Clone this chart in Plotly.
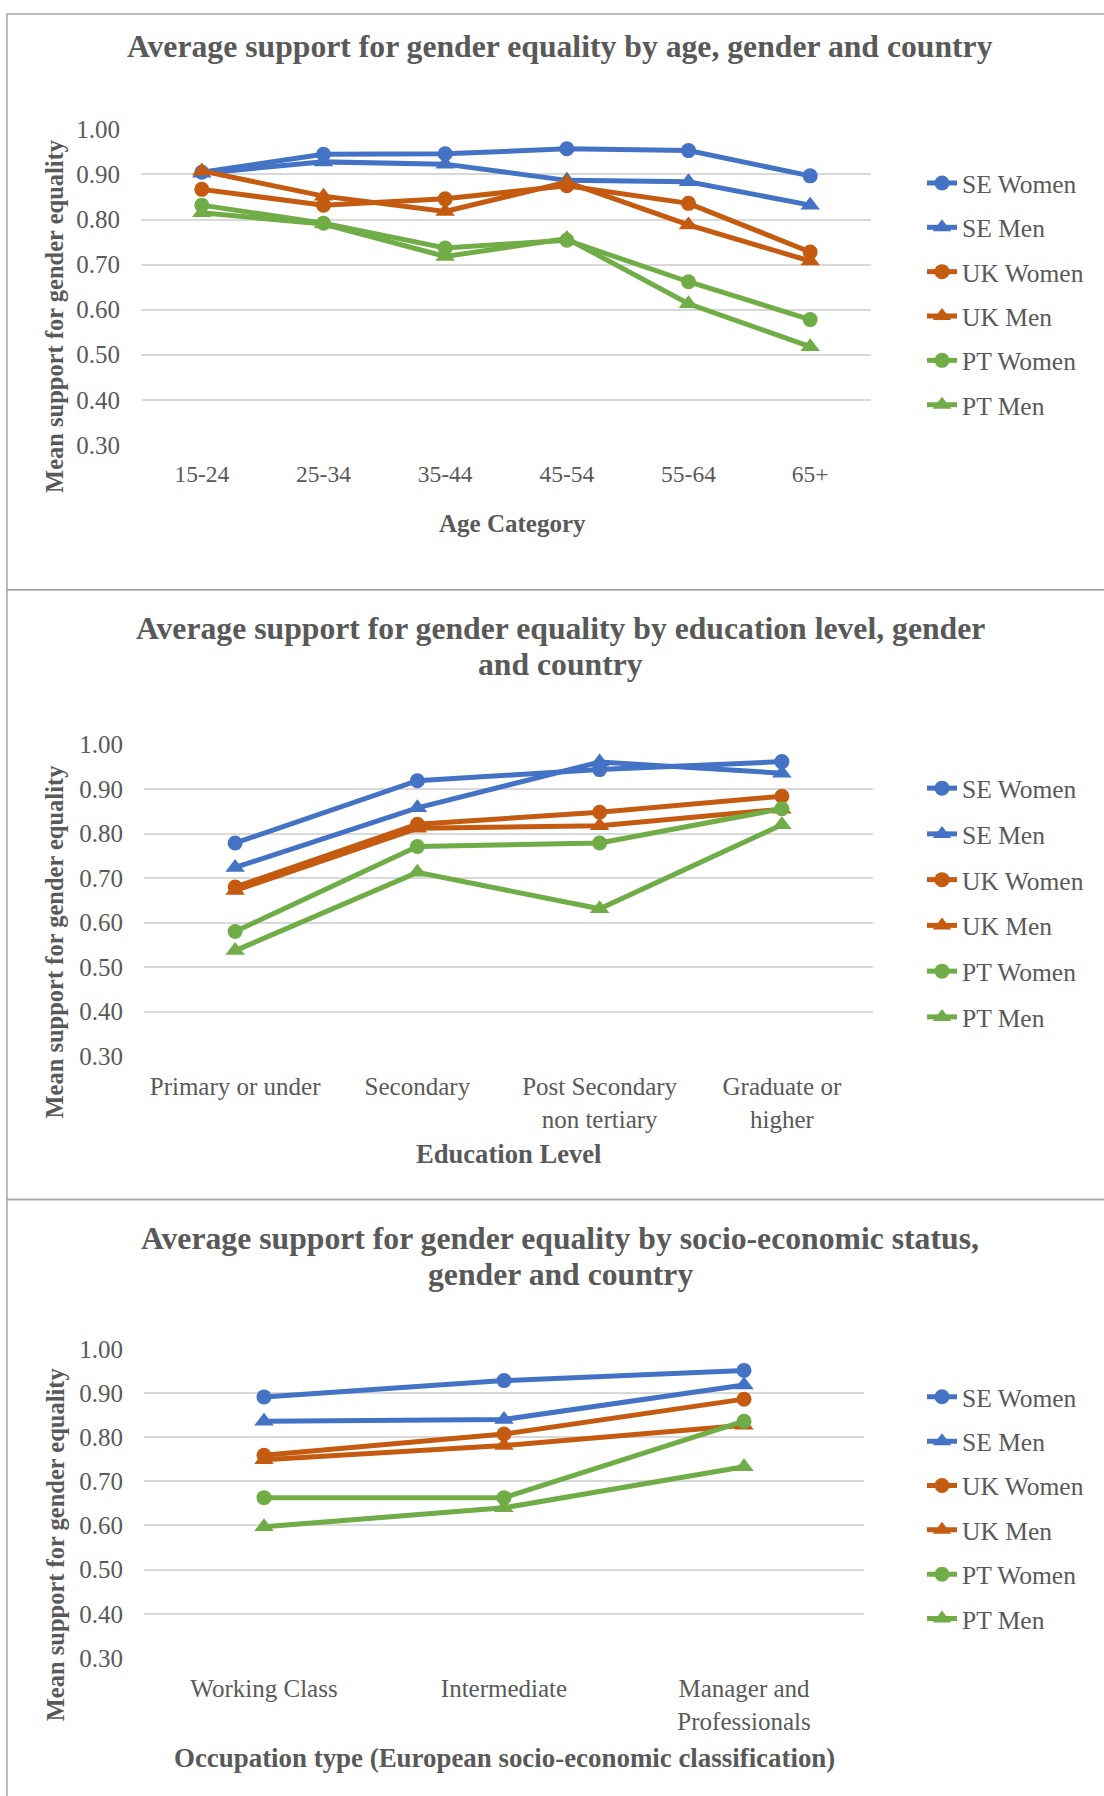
import plotly.graph_objects as go

# ---------------- data ----------------
series_names = ["SE Women", "SE Men", "UK Women", "UK Men", "PT Women", "PT Men"]

age_categories = ["15-24", "25-34", "35-44", "45-54", "55-64", "65+"]
age_se_women = [0.905, 0.945, 0.946, 0.957, 0.953, 0.897]
age_se_men = [0.903, 0.928, 0.923, 0.887, 0.884, 0.832]
age_uk_women = [0.867, 0.832, 0.846, 0.875, 0.836, 0.728]
age_uk_men = [0.908, 0.852, 0.818, 0.883, 0.788, 0.708]
age_pt_women = [0.832, 0.792, 0.737, 0.754, 0.662, 0.578]
age_pt_men = [0.815, 0.790, 0.718, 0.758, 0.613, 0.518]

edu_categories = ["Primary or under", "Secondary", "Post Secondary<br>non tertiary", "Graduate or<br>higher"]
edu_se_women = [0.779, 0.919, 0.944, 0.962]
edu_se_men = [0.724, 0.858, 0.961, 0.936]
edu_uk_women = [0.680, 0.821, 0.848, 0.884]
edu_uk_men = [0.672, 0.812, 0.818, 0.855]
edu_pt_women = [0.580, 0.771, 0.779, 0.856]
edu_pt_men = [0.537, 0.713, 0.631, 0.820]

occ_categories = ["Working Class", "Intermediate", "Manager and<br>Professionals"]
occ_se_women = [0.891, 0.928, 0.951]
occ_se_men = [0.836, 0.840, 0.918]
occ_uk_women = [0.759, 0.807, 0.886]
occ_uk_men = [0.749, 0.781, 0.827]
occ_pt_women = [0.663, 0.663, 0.836]
occ_pt_men = [0.597, 0.640, 0.733]

y_ticks = [0.30, 0.40, 0.50, 0.60, 0.70, 0.80, 0.90, 1.00]
y_axis_title = "Mean support for gender equality"

# ---------------- styling / layout ----------------
W, H = 1104, 1796
FONT = "Liberation Serif"
TXT = "#595959"
GRID = "#D9D9D9"
colors = ["#4472C4", "#4472C4", "#C55A11", "#C55A11", "#70AD47", "#70AD47"]
symbols = ["circle", "triangle-up"] * 3
msizes = [15, 17] * 3

# the captured picture maps page y to screen y as  screen = 0.9855 * page + 12.9
SCALE_Y, OFFSET_Y = 0.9855, 12.9


def px(x):
    return x / W


def sy(y_screen):
    """page pixel position that lands on the wanted screen position"""
    return (y_screen - OFFSET_Y) / SCALE_Y


def py(y_screen):
    return 1 - sy(y_screen) / H


charts = [
    dict(cats=age_categories,
         data=[age_se_women, age_se_men, age_uk_women, age_uk_men, age_pt_women, age_pt_men],
         title=["Average support for gender equality by age, gender and country"], title_y=[46],
         xtitle="Age Category", xtitle_y=524, xtitle_x=512, axis_title_size=25,
         xtick_size=23.5,
         x0=141, x1=871, ytop=129.4, ybot=445,
         ytitle_y=316, legend_first=184.5, legend_gap=8.2, box=(None, 590)),
    dict(cats=edu_categories,
         data=[edu_se_women, edu_se_men, edu_uk_women, edu_uk_men, edu_pt_women, edu_pt_men],
         title=["Average support for gender equality by education level, gender", "and country"],
         title_y=[629, 664.5],
         xtitle="Education Level", xtitle_y=1155, xtitle_x=508.5, axis_title_size=26.6,
         xtick_size=25,
         x0=144, x1=873, ytop=745, ybot=1056.5,
         ytitle_y=942, legend_first=790, legend_gap=9.6, box=(590, 1200)),
    dict(cats=occ_categories,
         data=[occ_se_women, occ_se_men, occ_uk_women, occ_uk_men, occ_pt_women, occ_pt_men],
         title=["Average support for gender equality by socio-economic status,", "gender and country"],
         title_y=[1239.5, 1275.5],
         xtitle="Occupation type (European socio-economic classification)", xtitle_y=1758.5,
         xtitle_x=504.5, axis_title_size=26.9,
         xtick_size=25,
         x0=144, x1=864, ytop=1349.4, ybot=1658.8,
         ytitle_y=1545, legend_first=1399, legend_gap=8.2, box=(1200, None)),
]

fig = go.Figure()
annotations = []
shapes = []
layout = dict(width=W, height=H, margin=dict(l=0, r=0, t=0, b=0),
              paper_bgcolor="white", plot_bgcolor="white",
              font=dict(family=FONT, color=TXT, size=24))

for i, ch in enumerate(charts):
    sfx = "" if i == 0 else str(i + 1)
    xa, ya = "x" + sfx, "y" + sfx
    leg = "legend" + sfx
    for k, name in enumerate(series_names):
        fig.add_trace(go.Scatter(
            x=ch["cats"], y=ch["data"][k], name=name, mode="lines+markers",
            line=dict(color=colors[k], width=5),
            marker=dict(symbol=symbols[k], size=msizes[k], color=colors[k]),
            xaxis=xa, yaxis=ya, legend=leg, legendgroup=f"{i}-{name}",
            hoverinfo="skip"))
    n = len(ch["cats"])
    layout["xaxis" + sfx] = dict(
        domain=[px(ch["x0"]), px(ch["x1"])], anchor=ya, type="category",
        range=[-0.5, n - 0.5], showgrid=False, showline=False, zeroline=False,
        ticks="", tickfont=dict(family=FONT, color=TXT, size=ch["xtick_size"]),
        ticklabelstandoff=13, fixedrange=True)
    layout["yaxis" + sfx] = dict(
        domain=[py(ch["ybot"]), py(ch["ytop"])], anchor=xa,
        range=[0.3, 1.0], tickmode="array", tickvals=y_ticks,
        ticktext=[f"{v:.2f}" for v in y_ticks],
        showgrid=True, gridcolor=GRID, gridwidth=1.8, showline=False, zeroline=False,
        ticks="", tickfont=dict(family=FONT, color=TXT, size=25),
        ticklabelstandoff=20, fixedrange=True)
    legend_top_page = sy(ch["legend_first"]) - 25
    layout[leg] = dict(
        x=px(922), y=1 - legend_top_page / H, xanchor="left", yanchor="top",
        font=dict(family=FONT, color=TXT, size=25.5), bgcolor="rgba(0,0,0,0)",
        traceorder="grouped", tracegroupgap=ch["legend_gap"], itemwidth=30)
    for line, yy in zip(ch["title"], ch["title_y"]):
        annotations.append(dict(
            text=f"<b>{line}</b>", x=px(560), y=py(yy), xref="paper", yref="paper",
            xanchor="center", yanchor="middle", showarrow=False,
            font=dict(family=FONT, color=TXT, size=31.7)))
    annotations.append(dict(
        text=f"<b>{ch['xtitle']}</b>", x=px(ch["xtitle_x"]), y=py(ch["xtitle_y"]),
        xref="paper", yref="paper", xanchor="center", yanchor="middle", showarrow=False,
        font=dict(family=FONT, color=TXT, size=ch["axis_title_size"])))
    annotations.append(dict(
        text=f"<b>{y_axis_title}</b>", x=px(55), y=py(ch["ytitle_y"]),
        xref="paper", yref="paper", xanchor="center", yanchor="middle", showarrow=False,
        textangle=-90, font=dict(family=FONT, color=TXT, size=24.5)))
    top, bot = ch["box"]
    y_top = 1 - 1 / H if top is None else py(top)
    y_bot = -0.01 if bot is None else py(bot)
    shapes.append(dict(type="rect", xref="paper", yref="paper",
                       x0=px(7), x1=px(1115), y0=y_bot, y1=y_top,
                       line=dict(color="#A6A6A6", width=1.5), fillcolor="rgba(0,0,0,0)"))

layout["annotations"] = annotations
layout["shapes"] = shapes
fig.update_layout(**layout)
fig.write_html(
    "out.html",
    post_script="document.body.style.margin='0';document.body.style.overflow='hidden';")
